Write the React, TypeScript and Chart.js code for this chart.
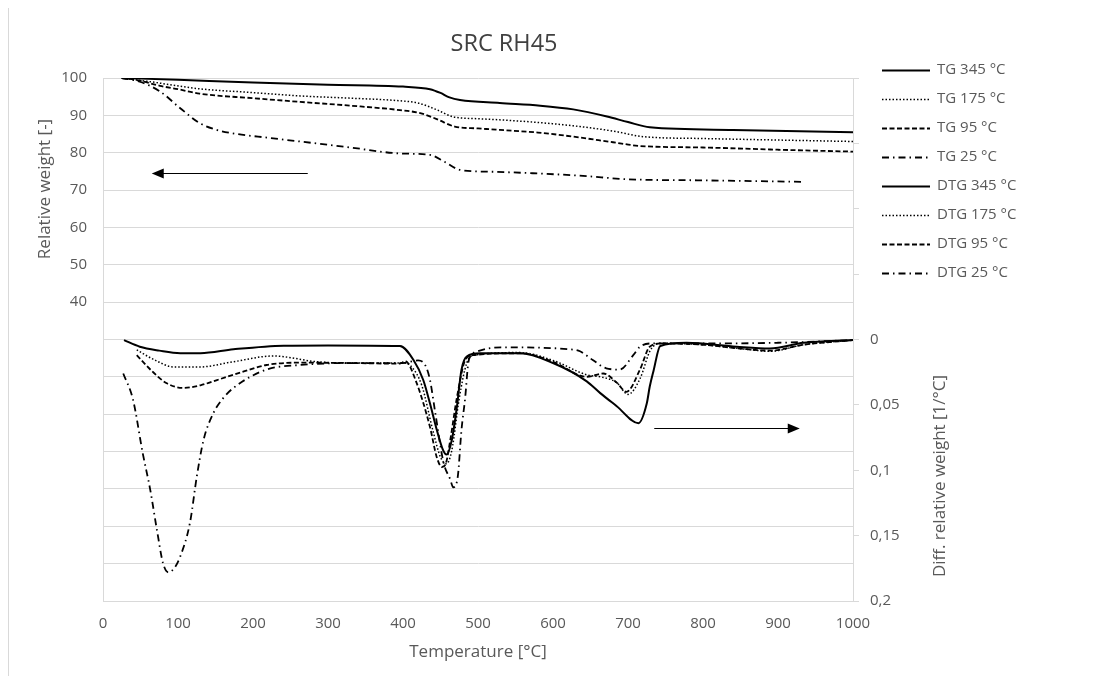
import React, { useEffect, useRef } from "react";
import { Chart, registerables } from "chart.js";

Chart.register(...registerables);

// ---------- data ----------
const tg345T = [25, 100, 200, 300, 400, 436, 450, 462, 476, 529, 583, 627, 672, 700, 729, 840, 1000];
const tg345W = [100, 99.5, 98.8, 98.2, 97.7, 97.0, 96.0, 94.8, 94.1, 93.3, 92.6, 91.6, 89.7, 88.2, 86.8, 86.1, 85.5];

const tg175T = [25, 63, 129, 200, 263, 330, 396, 420, 445, 467, 500, 529, 580, 627, 680, 720, 800, 1000];
const tg175W = [100, 99.0, 97.1, 96.1, 95.2, 94.6, 93.9, 93.3, 91.5, 89.6, 89.1, 88.8, 88.1, 87.2, 85.8, 84.3, 83.8, 83.0];

const tg95T = [25, 49, 76, 100, 129, 200, 263, 330, 396, 423, 445, 469, 500, 529, 580, 627, 680, 716, 800, 900, 1000];
const tg95W = [100, 99.3, 97.9, 97.0, 95.8, 94.6, 93.6, 92.6, 91.4, 90.6, 89.0, 87.0, 86.5, 86.1, 85.4, 84.3, 82.8, 81.8, 81.4, 80.8, 80.3];

const tg25T = [25, 49, 76, 103, 129, 150, 173, 220, 263, 330, 396, 436, 456, 476, 520, 573, 640, 699, 800, 933];
const tg25W = [100, 99.0, 96.4, 91.9, 87.9, 86.2, 85.2, 84.0, 83.0, 81.4, 79.8, 79.4, 77.5, 75.4, 74.9, 74.5, 73.8, 72.9, 72.6, 72.2];

const dtg345T = [28, 49, 75, 103, 130, 174, 241, 300, 396, 414, 427, 436, 445, 453, 458, 465, 472, 478, 485, 503, 556, 600, 645, 663, 685, 714, 725, 729, 734, 743, 778, 845, 889, 934, 1000];
const dtg345D = [0.0005, 0.0055, 0.0085, 0.0105, 0.0105, 0.0075, 0.0047, 0.0045, 0.005, 0.0157, 0.031, 0.049, 0.069, 0.084, 0.088, 0.077, 0.051, 0.023, 0.013, 0.0106, 0.0106, 0.018, 0.032, 0.041, 0.051, 0.064, 0.049, 0.036, 0.024, 0.005, 0.0025, 0.0055, 0.0068, 0.0025, 0.0004];

const dtg175T = [45, 70, 94, 129, 174, 227, 285, 330, 400, 410, 425, 440, 450, 458, 465, 475, 485, 495, 556, 600, 645, 667, 685, 700, 716, 730, 745, 800, 850, 890, 934, 1000];
const dtg175D = [0.008, 0.016, 0.021, 0.021, 0.017, 0.0126, 0.017, 0.018, 0.018, 0.02, 0.035, 0.07, 0.09, 0.095, 0.085, 0.045, 0.018, 0.012, 0.010, 0.016, 0.027, 0.029, 0.033, 0.042, 0.030, 0.008, 0.003, 0.004, 0.007, 0.009, 0.004, 0.0005];

const dtg95T = [45, 65, 85, 107, 130, 152, 185, 218, 263, 330, 396, 403, 418, 436, 445, 452, 457, 463, 472, 483, 493, 556, 600, 645, 667, 685, 698, 716, 729, 745, 800, 850, 890, 934, 1000];
const dtg95D = [0.012, 0.024, 0.0335, 0.037, 0.035, 0.031, 0.025, 0.0195, 0.0177, 0.018, 0.0185, 0.0165, 0.033, 0.067, 0.09, 0.0975, 0.095, 0.077, 0.044, 0.0157, 0.012, 0.0105, 0.017, 0.0285, 0.026, 0.033, 0.040, 0.023, 0.0055, 0.003, 0.004, 0.007, 0.0085, 0.004, 0.0005];

const dtg25T = [27, 40, 53, 63, 72, 80, 87, 95, 103, 116, 125, 134, 147, 160, 174, 218, 263, 330, 400, 420, 430, 436, 443, 454, 463, 467, 473, 478, 483, 487, 491, 500, 533, 623, 636, 653, 671, 689, 707, 716, 734, 800, 900, 1000];
const dtg25D = [0.026, 0.046, 0.087, 0.115, 0.146, 0.171, 0.178, 0.175, 0.166, 0.140, 0.105, 0.077, 0.0565, 0.045, 0.037, 0.023, 0.0195, 0.018, 0.018, 0.016, 0.02, 0.031, 0.056, 0.094, 0.107, 0.113, 0.105, 0.069, 0.044, 0.018, 0.012, 0.009, 0.006, 0.0075, 0.009, 0.0157, 0.022, 0.023, 0.012, 0.0055, 0.003, 0.003, 0.0025, 0.0005];

const seriesLabels = ["TG 345 °C", "TG 175 °C", "TG 95 °C", "TG 25 °C", "DTG 345 °C", "DTG 175 °C", "DTG 95 °C", "DTG 25 °C"];

const xTickValues = [0, 100, 200, 300, 400, 500, 600, 700, 800, 900, 1000];

// arrows: [fromT, toT, value]
const arrowLeft = [273, 65, 74.6];
const arrowRight = [735, 929, 0.0677];

// ---------- styles ----------
const FONT = "'Open Sans', sans-serif";
const TEXT = "#595959";
const GRID = "#d9d9d9";
const SOLID: number[] = [];
const DOT = [1.5, 2];
const DASH = [5, 2.5];
const DASHDOT = [7, 4, 1.5, 4];
const dashes = [SOLID, DOT, DASH, DASHDOT, SOLID, DOT, DASH, DASHDOT];
const widths = [2, 1.5, 1.8, 1.8, 2, 1.5, 1.8, 1.8];
const TICK_SIZE = 15;

function pts(t: number[], v: number[]) {
  return t.map((x, i) => ({ x, y: v[i] }));
}

const decoPlugin = {
  id: "deco",
  afterDraw(chart: any) {
    const ctx = chart.ctx as CanvasRenderingContext2D;
    const xs = chart.scales.x;
    const y1 = chart.scales.y;
    const y2 = chart.scales.y2;
    ctx.save();
    // frame line
    ctx.strokeStyle = GRID;
    ctx.lineWidth = 1;
    ctx.setLineDash([]);
    ctx.beginPath();
    ctx.moveTo(0.5, 0);
    ctx.lineTo(0.5, chart.height);
    ctx.stroke();

    // title
    ctx.fillStyle = "#404040";
    ctx.font = `23.5px ${FONT}`;
    ctx.textAlign = "center";
    ctx.textBaseline = "middle";
    ctx.fillText("SRC RH45", 496, 36);

    // axis titles
    ctx.fillStyle = TEXT;
    ctx.font = `17px ${FONT}`;
    ctx.fillText("Temperature [°C]", (xs.left + xs.right) / 2, 644);
    ctx.save();
    ctx.translate(37, 181);
    ctx.rotate(-Math.PI / 2);
    ctx.fillText("Relative weight [-]", 0, 0);
    ctx.restore();
    ctx.save();
    ctx.translate(932, 468);
    ctx.rotate(-Math.PI / 2);
    ctx.fillText("Diff. relative weight [1/°C]", 0, 0);
    ctx.restore();

    // legend
    ctx.textAlign = "left";
    ctx.font = `${TICK_SIZE}px ${FONT}`;
    chart.data.datasets.forEach((ds: any, i: number) => {
      const yy = 61.5 + i * 29.05;
      ctx.strokeStyle = "#000";
      ctx.lineWidth = ds.borderWidth;
      ctx.setLineDash(ds.borderDash || []);
      ctx.beginPath();
      ctx.moveTo(874, Math.round(yy) + 0.5);
      ctx.lineTo(922, Math.round(yy) + 0.5);
      ctx.stroke();
      ctx.setLineDash([]);
      ctx.fillStyle = TEXT;
      ctx.fillText(ds.label, 929, yy);
    });

    // arrows
    const drawArrow = (x0: number, x1: number, y: number) => {
      ctx.strokeStyle = "#000";
      ctx.fillStyle = "#000";
      ctx.lineWidth = 1.2;
      ctx.setLineDash([]);
      const dir = x1 > x0 ? 1 : -1;
      ctx.beginPath();
      ctx.moveTo(x0, y);
      ctx.lineTo(x1 - dir * 10, y);
      ctx.stroke();
      ctx.beginPath();
      ctx.moveTo(x1, y);
      ctx.lineTo(x1 - dir * 12, y - 5);
      ctx.lineTo(x1 - dir * 12, y + 5);
      ctx.closePath();
      ctx.fill();
    };
    drawArrow(xs.getPixelForValue(arrowLeft[0]), xs.getPixelForValue(arrowLeft[1]), Math.round(y1.getPixelForValue(arrowLeft[2])) + 0.5);
    drawArrow(xs.getPixelForValue(arrowRight[0]), xs.getPixelForValue(arrowRight[1]), Math.round(y2.getPixelForValue(arrowRight[2])) + 0.5);
    ctx.restore();
  },
};

export default function App() {
  const ref = useRef<HTMLCanvasElement | null>(null);
  useEffect(() => {
    if (!ref.current) return;
    const tgData = [pts(tg345T, tg345W), pts(tg175T, tg175W), pts(tg95T, tg95W), pts(tg25T, tg25W)];
    const dtgData = [pts(dtg345T, dtg345D), pts(dtg175T, dtg175D), pts(dtg95T, dtg95D), pts(dtg25T, dtg25D)];
    const all = [...tgData, ...dtgData];
    const datasets = all.map((d, i) => ({
      label: seriesLabels[i],
      data: d,
      yAxisID: i < 4 ? "y" : "y2",
      borderColor: "#000",
      backgroundColor: "#000",
      borderWidth: widths[i],
      borderDash: dashes[i],
      pointRadius: 0,
      fill: false,
      cubicInterpolationMode: "monotone" as const,
    }));
    const chart = new Chart(ref.current, {
      type: "line",
      data: { datasets },
      plugins: [decoPlugin],
      options: {
        responsive: false,
        animation: false,
        devicePixelRatio: 1,
        layout: { padding: { top: 70, left: 0, right: 0, bottom: 0 } },
        plugins: { legend: { display: false }, title: { display: false }, tooltip: { enabled: false } },
        scales: {
          x: {
            type: "linear",
            min: 0,
            max: 1000,
            afterBuildTicks: (s: any) => { s.ticks = xTickValues.map((v) => ({ value: v })); },
            afterFit: (s: any) => { s.height = 75; },
            grid: { display: false, drawTicks: false },
            border: { display: true, color: GRID },
            ticks: {
              color: TEXT,
              font: { family: FONT, size: TICK_SIZE },
              padding: 14,
              maxRotation: 0,
              autoSkip: false,
              callback: (v: any) => String(v),
            },
          },
          y: {
            type: "linear",
            position: "left",
            min: -40,
            max: 100,
            afterFit: (s: any) => { s.width = 95; },
            grid: { color: GRID, drawTicks: false },
            border: { display: true, color: GRID },
            ticks: {
              stepSize: 10,
              color: TEXT,
              font: { family: FONT, size: TICK_SIZE },
              padding: 16,
              callback: (v: any) => (Number(v) >= 40 ? String(v) : ""),
            },
          },
          y2: {
            type: "linear",
            position: "right",
            min: -0.2,
            max: 0.2,
            reverse: true,
            afterFit: (s: any) => { s.width = 252; },
            grid: { drawOnChartArea: false, drawTicks: true, tickLength: 6, color: GRID },
            border: { display: true, color: GRID },
            ticks: {
              stepSize: 0.05,
              color: TEXT,
              font: { family: FONT, size: TICK_SIZE },
              padding: 11,
              callback: (v: any) => {
                const n = Math.round(Number(v) * 100) / 100;
                return n >= 0 ? String(n).replace(".", ",") : "";
              },
            },
          },
        },
      },
    });
    return () => chart.destroy();
  }, []);
  return (
    <div style={{ width: 1097, height: 668 }}>
      <canvas ref={ref} width={1097} height={668} style={{ display: "block", width: 1097, height: 668 }} />
    </div>
  );
}
